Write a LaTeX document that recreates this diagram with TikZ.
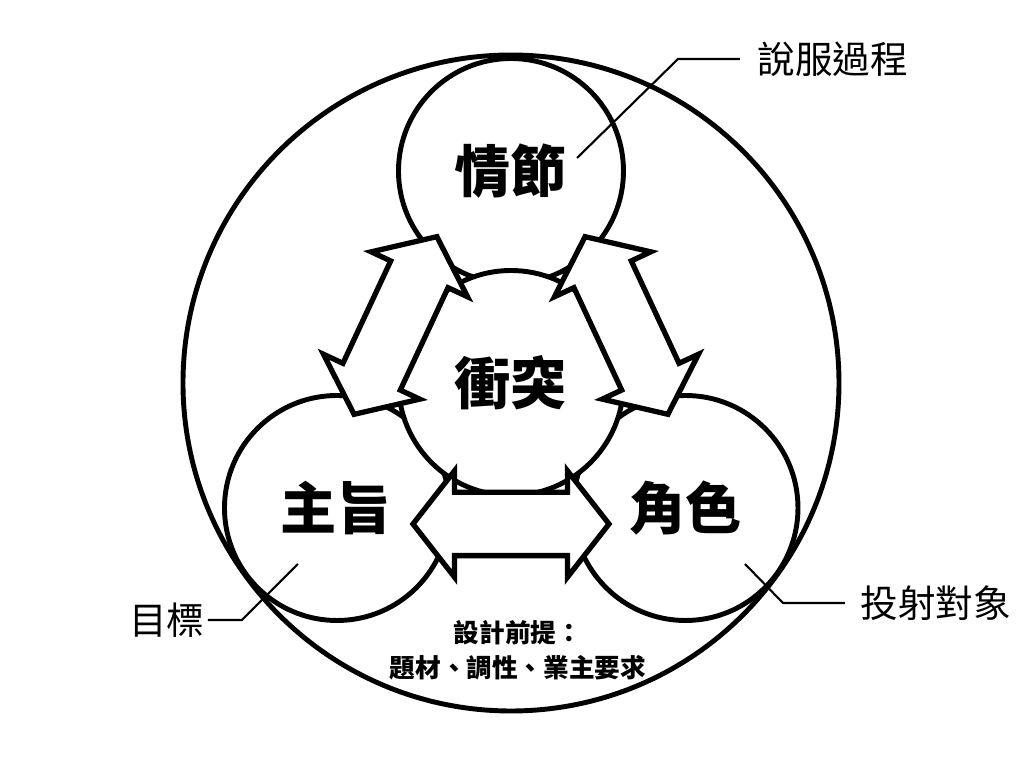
\documentclass[tikz,border=0pt]{standalone}
\usepackage{fontspec}
\newfontfamily\cjk{Noto Sans CJK TC}
\usepackage{tikz}
\usetikzlibrary{shapes.arrows}

\begin{document}
\begin{tikzpicture}[
    font=\cjk,
    outerring/.style={circle, draw, line width=1.4pt, minimum size=6.56cm},
    bubble/.style={circle, draw, line width=1.4pt, minimum size=2.25cm, inner sep=0pt, font=\cjk\bfseries\fontsize{16}{18}\selectfont},
    flow/.style={double arrow, draw, fill=white, line width=1.5pt, minimum height=1.96cm, inner xsep=0pt, inner ysep=0.29cm, double arrow head extend=0.215cm, double arrow tip angle=104},
    tag/.style={font=\cjk\fontsize{10.7}{13}\selectfont},
    note/.style={font=\cjk\bfseries\fontsize{7.3}{10}\selectfont, align=center},
    leader/.style={line width=0.6pt}
]
    \useasboundingbox (-5.11,-3.85) rectangle (5.13,3.83);

    \node[outerring] (ring) at (0,0) {};
    \node[bubble] (plot) at (0,2.12) {情節};
    \node[bubble] (theme) at (-1.74,-1.25) {主旨};
    \node[bubble] (role) at (1.745,-1.25) {角色};
    \node[bubble, fill=white] (conflict) at (0,0) {衝突};

    \node[flow] (themerole) at (0,-1.41) {};
    \node[flow, rotate=65] (plottheme) at (-1.155,0.575) {};
    \node[flow, rotate=115] (plotrole) at (1.155,0.575) {};

    \node[note] (premise) at (0.07,-2.67) {設計前提：\\題材、調性、業主要求};

    % labels with leader lines
    \node[tag, anchor=west, inner xsep=0.17cm] (persuade) at (2.29,3.24) {說服過程};
    \node[tag, anchor=east, inner xsep=0.03cm] (goal) at (-3.03,-2.37) {目標};
    \node[tag, anchor=west, inner xsep=0.15cm] (target) at (3.34,-2.20) {投射對象};

    \coordinate (persuadeknee) at (1.67,3.24);
    \coordinate (persuadetip) at (0.66,2.25);
    \coordinate (goalknee) at (-2.69,-2.37);
    \coordinate (goaltip) at (-2.13,-1.81);
    \coordinate (targetknee) at (2.72,-2.20);
    \coordinate (targettip) at (2.34,-1.81);

    \draw[leader] (persuade.west) -- (persuadeknee) -- (persuadetip);
    \draw[leader] (goal.east) -- (goalknee) -- (goaltip);
    \draw[leader] (target.west) -- (targetknee) -- (targettip);
\end{tikzpicture}
\end{document}
